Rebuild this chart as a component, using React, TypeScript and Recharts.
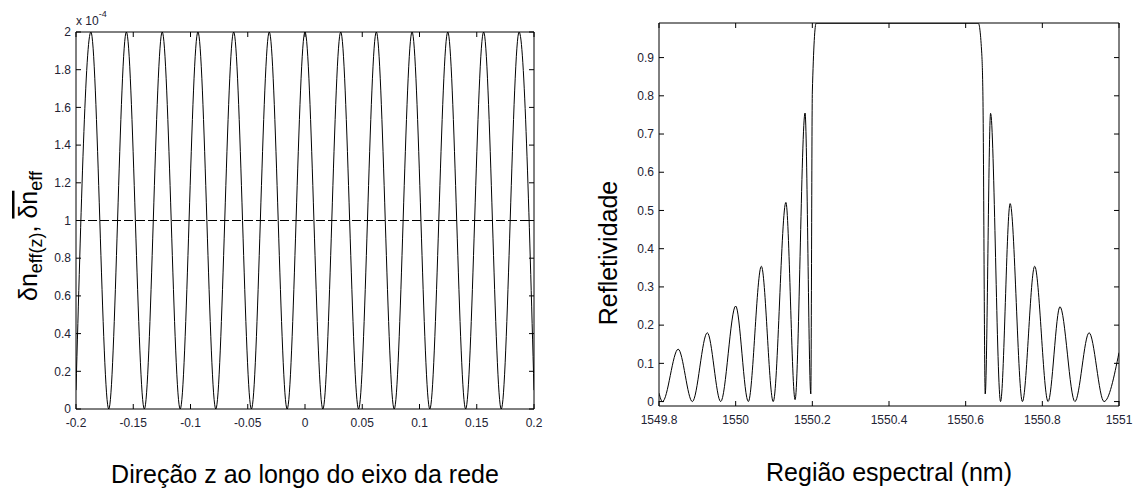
import React from "react";
import { LineChart, Line, XAxis, YAxis, ReferenceLine } from "recharts";

// ---------- Left chart: index modulation along the grating ----------
const zPosition = [
  -0.2, -0.187, -0.1714, -0.156, -0.1403, -0.1247, -0.109, -0.0935, -0.0779,
  -0.0623, -0.0468, -0.0312, -0.0156, 0, 0.0156, 0.0312, 0.0468, 0.0623,
  0.0779, 0.0935, 0.109, 0.1247, 0.1403, 0.156, 0.1714, 0.187, 0.2,
];
const deltaNeff = [
  0.1, 2, 0, 2, 0, 2, 0, 2, 0, 2, 0, 2, 0, 2, 0, 2, 0, 2, 0, 2, 0, 2, 0, 2, 0,
  2, 0.1,
];
const meanDeltaN = 1;
const zTicks = [-0.2, -0.15, -0.1, -0.05, 0, 0.05, 0.1, 0.15, 0.2];
const dnTicks = [0, 0.2, 0.4, 0.6, 0.8, 1, 1.2, 1.4, 1.6, 1.8, 2];

// ---------- Right chart: reflectivity spectrum ----------
const wavelength = [
  1549.8, 1549.809, 1549.85, 1549.887, 1549.926, 1549.961, 1550.0, 1550.033,
  1550.067, 1550.098, 1550.131, 1550.155, 1550.181, 1550.196, 1550.2,
  1550.21, 1550.633, 1550.642, 1550.645, 1550.651, 1550.665, 1550.691,
  1550.716, 1550.748, 1550.78, 1550.815, 1550.846, 1550.885, 1550.922,
  1550.961, 1551.0,
];
const reflectivity = [
  0.022, 0.0, 0.137, 0.0, 0.18, 0.0, 0.25, 0.0, 0.354, 0.0, 0.521, 0.005,
  0.755, 0.02, 0.81, 0.99, 0.99, 0.91, 0.8, 0.02, 0.754, 0.0, 0.518, 0.0,
  0.354, 0.0, 0.248, 0.0, 0.18, 0.0, 0.128,
];
const lambdaTicks = [1549.8, 1550, 1550.2, 1550.4, 1550.6, 1550.8, 1551];
const rTicks = [0, 0.1, 0.2, 0.3, 0.4, 0.5, 0.6, 0.7, 0.8, 0.9];

const leftData = zPosition.map((z, i) => ({ z, dn: deltaNeff[i] }));
const rightData = wavelength.map((w, i) => ({ w, r: reflectivity[i] }));

const FONT = "'Liberation Sans', Arial, Helvetica, sans-serif";
const TICK_COLOR = "#222233";
const TL = 5;

const BottomTick = (props: any) => {
  const { x, y, payload } = props;
  return (
    <g>
      <line x1={x} x2={x} y1={y} y2={y - TL} stroke="#000" />
      <text
        x={x}
        y={y + 9}
        dy="0.71em"
        textAnchor="middle"
        fontSize={12}
        fontFamily={FONT}
        fill={TICK_COLOR}
      >
        {String(payload.value)}
      </text>
    </g>
  );
};
const TopTick = (props: any) => {
  const { x, y } = props;
  return <line x1={x} x2={x} y1={y} y2={y + TL} stroke="#000" />;
};
const LeftTick = (props: any) => {
  const { x, y, payload } = props;
  return (
    <g>
      <line x1={x} x2={x + TL} y1={y} y2={y} stroke="#000" />
      <text
        x={x - 5}
        y={y}
        dy="0.35em"
        textAnchor="end"
        fontSize={12}
        fontFamily={FONT}
        fill={TICK_COLOR}
      >
        {String(payload.value)}
      </text>
    </g>
  );
};
const RightTick = (props: any) => {
  const { x, y } = props;
  return <line x1={x} x2={x - TL} y1={y} y2={y} stroke="#000" />;
};

const axisCommon = {
  type: "number" as const,
  allowDataOverflow: true,
  interval: 0 as const,
  tickLine: false,
  tickSize: 0,
  tickMargin: 0,
  axisLine: { stroke: "#000" },
};

function LeftChart() {
  return (
    <LineChart
      width={560}
      height={490}
      data={leftData}
      margin={{ top: 31, left: 36, right: 25, bottom: 51 }}
    >
      <XAxis
        {...axisCommon}
        xAxisId="bottom"
        dataKey="z"
        domain={[-0.2, 0.2]}
        ticks={zTicks}
        height={30}
        tick={<BottomTick />}
      />
      <XAxis
        {...axisCommon}
        xAxisId="top"
        orientation="top"
        dataKey="z"
        domain={[-0.2, 0.2]}
        ticks={zTicks}
        height={1}
        tick={<TopTick />}
      />
      <YAxis
        {...axisCommon}
        yAxisId="left"
        domain={[0, 2]}
        ticks={dnTicks}
        width={40}
        tick={<LeftTick />}
      />
      <YAxis
        {...axisCommon}
        yAxisId="right"
        orientation="right"
        domain={[0, 2]}
        ticks={dnTicks}
        width={1}
        tick={<RightTick />}
      />
      <ReferenceLine
        xAxisId="bottom"
        yAxisId="left"
        y={meanDeltaN}
        stroke="#000"
        strokeDasharray="9 3"
      />
      <Line
        xAxisId="bottom"
        yAxisId="left"
        type="monotone"
        dataKey="dn"
        stroke="#000"
        strokeWidth={1}
        dot={false}
        isAnimationActive={false}
      />
    </LineChart>
  );
}

function RightChart() {
  return (
    <LineChart
      width={555}
      height={490}
      data={rightData}
      margin={{ top: 22, left: 39, right: 15, bottom: 54 }}
    >
      <XAxis
        {...axisCommon}
        xAxisId="bottom"
        dataKey="w"
        domain={[1549.8, 1551]}
        ticks={lambdaTicks}
        height={30}
        tick={<BottomTick />}
      />
      <XAxis
        {...axisCommon}
        xAxisId="top"
        orientation="top"
        dataKey="w"
        domain={[1549.8, 1551]}
        ticks={lambdaTicks}
        height={1}
        tick={<TopTick />}
      />
      <YAxis
        {...axisCommon}
        yAxisId="left"
        domain={[-0.0116, 0.9905]}
        ticks={rTicks}
        width={40}
        tick={<LeftTick />}
      />
      <YAxis
        {...axisCommon}
        yAxisId="right"
        orientation="right"
        domain={[-0.0116, 0.9905]}
        ticks={rTicks}
        width={1}
        tick={<RightTick />}
      />
      <Line
        xAxisId="bottom"
        yAxisId="left"
        type="monotone"
        dataKey="r"
        stroke="#000"
        strokeWidth={1}
        dot={false}
        isAnimationActive={false}
      />
    </LineChart>
  );
}

export default function App() {
  return (
    <div
      style={{
        position: "absolute",
        left: 0,
        top: 0,
        width: 1135,
        height: 490,
        background: "#fff",
        overflow: "hidden",
      }}
    >
      <div style={{ position: "absolute", left: 0, top: 0 }}>
        <LeftChart />
      </div>
      <div style={{ position: "absolute", left: 580, top: 0 }}>
        <RightChart />
      </div>
      <svg
        width={1135}
        height={490}
        style={{ position: "absolute", left: 0, top: 0, pointerEvents: "none" }}
        fontFamily={FONT}
      >
        <text x={76} y={25} fontSize={12} fill={TICK_COLOR}>
          x 10
          <tspan fontSize={9} dy={-8}>
            -4
          </tspan>
        </text>
        <text
          x={37}
          y={236}
          transform="rotate(-90, 37, 236)"
          textAnchor="middle"
          fontSize={25}
          fill="#000"
        >
          δn
          <tspan fontSize={18} dy={5}>
            eff(z)
          </tspan>
          <tspan dy={-5}>, </tspan>
          <tspan style={{ textDecoration: "overline" }}>δn</tspan>
          <tspan fontSize={18} dy={5}>
            eff
          </tspan>
        </text>
        <text x={305} y={483} textAnchor="middle" fontSize={25} fill="#000">
          Direção z ao longo do eixo da rede
        </text>
        <text
          x={617}
          y={253}
          transform="rotate(-90, 617, 253)"
          textAnchor="middle"
          fontSize={25}
          fill="#000"
        >
          Refletividade
        </text>
        <text x={889} y={481} textAnchor="middle" fontSize={25} fill="#000">
          Região espectral (nm)
        </text>
      </svg>
    </div>
  );
}
